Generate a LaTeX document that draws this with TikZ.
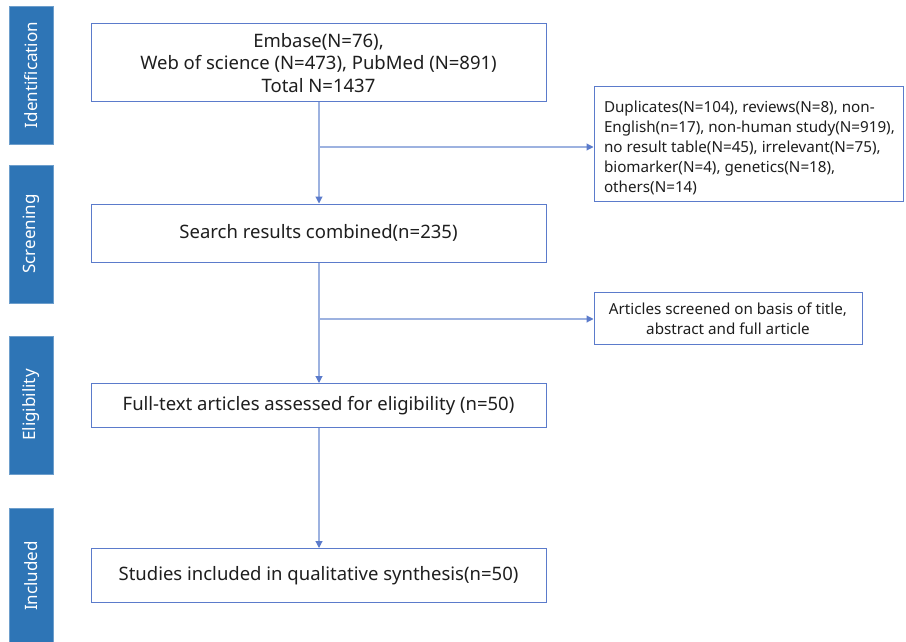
\documentclass[tikz,border=0pt]{standalone}
\usepackage{fontspec}
\setmainfont{Noto Sans}
\usetikzlibrary{arrows.meta}
\definecolor{phase}{HTML}{2E75B6}
\definecolor{boxline}{HTML}{5B7BCB}
\definecolor{conline}{HTML}{9DB2E0}
\definecolor{txt}{HTML}{1E1E1E}
\begin{document}
\begin{tikzpicture}[x=1pt,y=-1pt,
  phasebar/.style={fill=phase,draw=phase!70!white,line width=0.6pt,inner sep=0pt},
  phaselabel/.style={text=white,font=\fontsize{17}{20}\selectfont,rotate=90},
  mainbox/.style={draw=boxline,line width=1pt,fill=white,inner sep=0pt,text=txt,align=center,font=\fontsize{18.5}{22.5}\selectfont},
  sidebox/.style={draw=boxline,line width=1pt,fill=white,inner sep=0pt,text=txt,font=\fontsize{15.2}{20}\selectfont},
  conn/.style={draw=conline,line width=1.1pt,-{Triangle[length=7pt,width=7pt,fill=boxline,color=boxline]}}]
\useasboundingbox (0,0) rectangle (906,642);
% phase bars
\node[phasebar,minimum width=44pt,minimum height=138pt] (pid) at (31,75) {};
\node[phaselabel] at (pid.center) {Identification};
\node[phasebar,minimum width=44pt,minimum height=138pt] (psc) at (31,234) {};
\node[phaselabel] at (psc.center) {Screening};
\node[phasebar,minimum width=44pt,minimum height=138pt] (pel) at (31,405) {};
\node[phaselabel] at (pel.center) {Eligibility};
\node[phasebar,minimum width=44pt,minimum height=136pt] (pin) at (31,576) {};
\node[phaselabel] at (pin.center) {Included};
% main boxes
\node[mainbox,minimum width=455pt,minimum height=78pt] (b1) at (318.5,63) {Embase(N=76),\\Web of science (N=473), PubMed (N=891)\\Total N=1437};
\node[mainbox,minimum width=455pt,minimum height=58pt] (b2) at (318.5,233) {Search results combined(n=235)};
\node[mainbox,minimum width=455pt,minimum height=44pt] (b3) at (318.5,405.5) {Full-text articles assessed for eligibility (n=50)};
\node[mainbox,minimum width=455pt,minimum height=54pt] (b4) at (318.5,575.5) {Studies included in qualitative synthesis(n=50)};
% side boxes
\node[sidebox,minimum width=309pt,minimum height=114pt] (s1) at (748.5,144) {};
\node[sidebox,draw=none,fill=none,align=left,anchor=west] (s1t) at ([xshift=10pt,yshift=-4pt]s1.west) {Duplicates(N=104), reviews(N=8), non-\\English(n=17), non-human study(N=919),\\no result table(N=45), irrelevant(N=75),\\biomarker(N=4), genetics(N=18),\\others(N=14)};
\node[sidebox,minimum width=268pt,minimum height=52pt,align=center] (s2) at (728,318.5) {Articles screened on basis of title,\\abstract and full article};
% connectors
\coordinate (j1) at (319,147);
\coordinate (j2) at (319,319);
\draw[conn] (b1.south -| j1) -- (b2.north -| j1);
\draw[conn] (j1) -- (j1 -| s1.west);
\draw[conn] (b2.south -| j2) -- (b3.north -| j2);
\draw[conn] (j2) -- (j2 -| s2.west);
\draw[conn] (b3.south -| j2) -- (b4.north -| j2);
\end{tikzpicture}
\end{document}
